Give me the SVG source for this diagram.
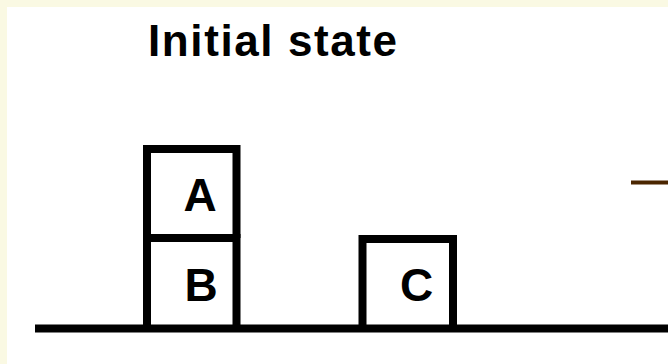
<svg xmlns="http://www.w3.org/2000/svg" width="668" height="364" viewBox="0 0 668 364">
<style>
.box{fill:none;stroke:#000;stroke-width:8}
.lbl{font-family:"Liberation Sans",Arial,sans-serif;font-weight:bold;font-size:46px;fill:#000;text-anchor:middle}
.title{font-family:"Liberation Sans",Arial,sans-serif;font-weight:bold;font-size:44px;fill:#000;letter-spacing:1.6px}
</style>
<rect x="0" y="0" width="668" height="364" fill="#FAF9E3"/>
<rect x="7" y="7" width="661" height="357" fill="#FFFFFF"/>
<text class="title" x="148" y="56">Initial state</text>
<g id="connectors">
<line x1="35" y1="328.5" x2="668" y2="328.5" stroke="#000" stroke-width="8"/>
<line x1="631" y1="182.5" x2="668" y2="182.5" stroke="#4A2500" stroke-width="4"/>
</g>
<g id="blockA">
<path class="box" d="M147,328 V149 H236.5 V238"/>
<text class="lbl" x="200" y="211">A</text>
</g>
<g id="blockB">
<path class="box" d="M147,238 H236.5 V328 M147,238 V328"/>
<text class="lbl" x="201" y="301">B</text>
</g>
<g id="blockC">
<path class="box" d="M362.5,328 V239 H453 V328"/>
<text class="lbl" x="416.5" y="301">C</text>
</g>
</svg>
